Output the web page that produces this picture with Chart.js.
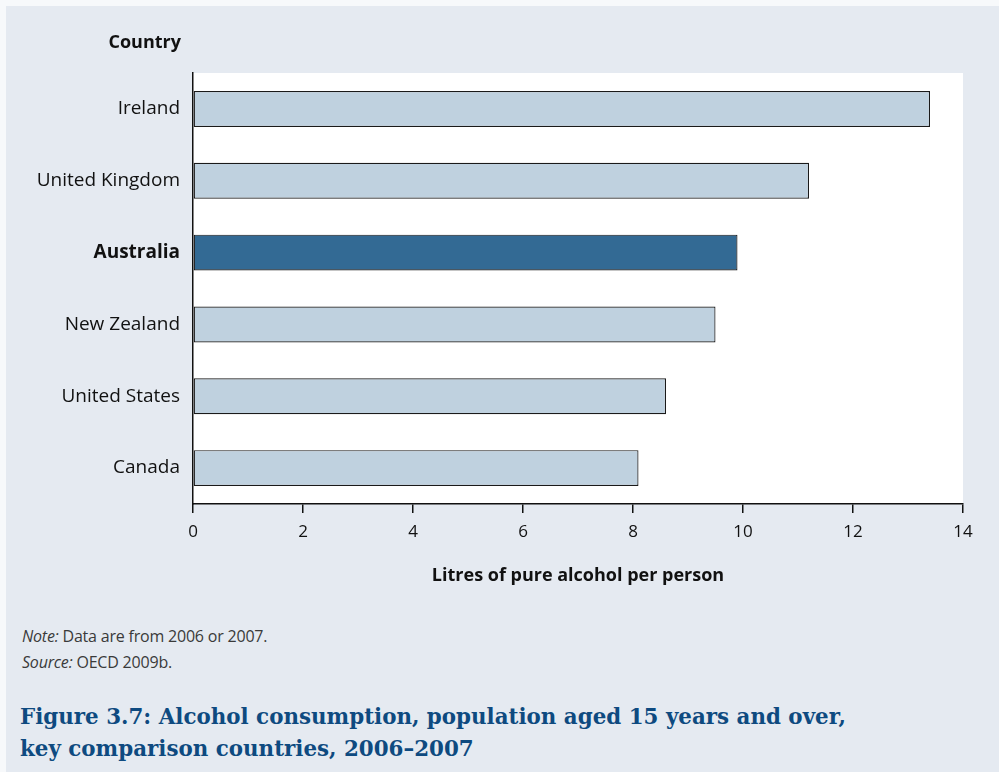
<!DOCTYPE html>
<html>
<head>
<meta charset="utf-8">
<script src="https://cdn.jsdelivr.net/npm/chart.js@4"></script>
<style>
  html, body { margin: 0; padding: 0; background: #f7f9fb; }
  #page { position: absolute; left: 6px; top: 6px; width: 993px; height: 766px; background: #e5eaf1; overflow: hidden; }
  #wrap { position: absolute; left: -6px; top: -6px; width: 999px; height: 600px; }
  .note { position: absolute; left: 16px; font-family: "Open Sans", sans-serif; font-size: 16px; color: #3a3a3a; letter-spacing: -0.2px; }
  .title { position: absolute; left: 14px; font-family: "DejaVu Serif", serif; font-weight: bold; font-size: 21.4px; color: #0e4a80; }
</style>
</head>
<body>
<div id="page">
  <div id="wrap"><canvas id="chart" width="999" height="600"></canvas></div>
  <div class="note" style="top:619px"><i>Note:</i> Data are from 2006 or 2007.</div>
  <div class="note" style="top:645px"><i>Source:</i> OECD 2009b.</div>
  <div class="title" style="top:698px">Figure 3.7: Alcohol consumption, population aged 15 years and over,</div>
  <div class="title" style="top:730px">key comparison countries, 2006–2007</div>
</div>
<script>
// данные с картинки
var countries = ['Ireland', 'United Kingdom', 'Australia', 'New Zealand', 'United States', 'Canada'];
var litres = [13.4, 11.2, 9.9, 9.5, 8.6, 8.1];
var xTicks = [0, 2, 4, 6, 8, 10, 12, 14];
var highlight = 'Australia';

var barColors = countries.map(function (c) { return c === highlight ? '#336a94' : '#bfd1df'; });

// подпись "Country" над осью
var countryLabel = {
    id: 'countryLabel',
    afterDraw: function (chart) {
        var ctx = chart.ctx;
        ctx.save();
        ctx.font = 'bold 18px "Open Sans", sans-serif';
        ctx.fillStyle = '#111';
        ctx.textAlign = 'right';
        ctx.textBaseline = 'middle';
        ctx.fillText('Country', chart.chartArea.left - 12, 43);
        ctx.restore();
    }
};

var ctx = document.getElementById('chart').getContext('2d');
new Chart(ctx, {
    type: 'bar',
    data: {
        labels: countries,
        datasets: [{
            data: litres,
            backgroundColor: barColors,
            borderColor: '#1a1a1a',
            borderWidth: 1.2,
            borderSkipped: false,
            barPercentage: 0.5,
            categoryPercentage: 1
        }]
    },
    options: {
        indexAxis: 'y',
        responsive: false,
        animation: false,
        layout: { padding: { top: 73, right: 36, left: 0, bottom: 0 } },
        scales: {
            x: {
                min: 0,
                max: 14,
                afterBuildTicks: function (axis) {
                    axis.ticks = xTicks.map(function (v) { return { value: v }; });
                },
                afterFit: function (scale) { scale.height = 96; },
                border: { color: '#111', width: 1.5 },
                grid: { drawOnChartArea: false, color: '#111', lineWidth: 1.5, tickLength: 9 },
                ticks: { color: '#111', font: { family: 'Open Sans', size: 17 }, padding: 9 },
                title: {
                    display: true,
                    text: 'Litres of pure alcohol per person',
                    color: '#111',
                    font: { family: 'Open Sans', size: 18, weight: 'bold' },
                    padding: { top: 6, bottom: 13 }
                }
            },
            y: {
                afterFit: function (scale) { scale.width = 193; },
                border: { color: '#111', width: 1.5 },
                grid: { display: false },
                ticks: {
                    color: '#111',
                    padding: 5,
                    font: function (c) {
                        return {
                            family: 'Open Sans',
                            size: 19,
                            weight: countries[c.index] === highlight ? 'bold' : 'normal'
                        };
                    }
                }
            }
        },
        plugins: {
            legend: { display: false },
            tooltip: { enabled: false }
        }
    },
    plugins: [countryLabel, {
        id: 'plotBg',
        beforeDraw: function (chart) {
            var a = chart.chartArea;
            chart.ctx.save();
            chart.ctx.fillStyle = '#ffffff';
            chart.ctx.fillRect(a.left, a.top, a.right - a.left, a.bottom - a.top);
            chart.ctx.restore();
        }
    }]
});
</script>
</body>
</html>
